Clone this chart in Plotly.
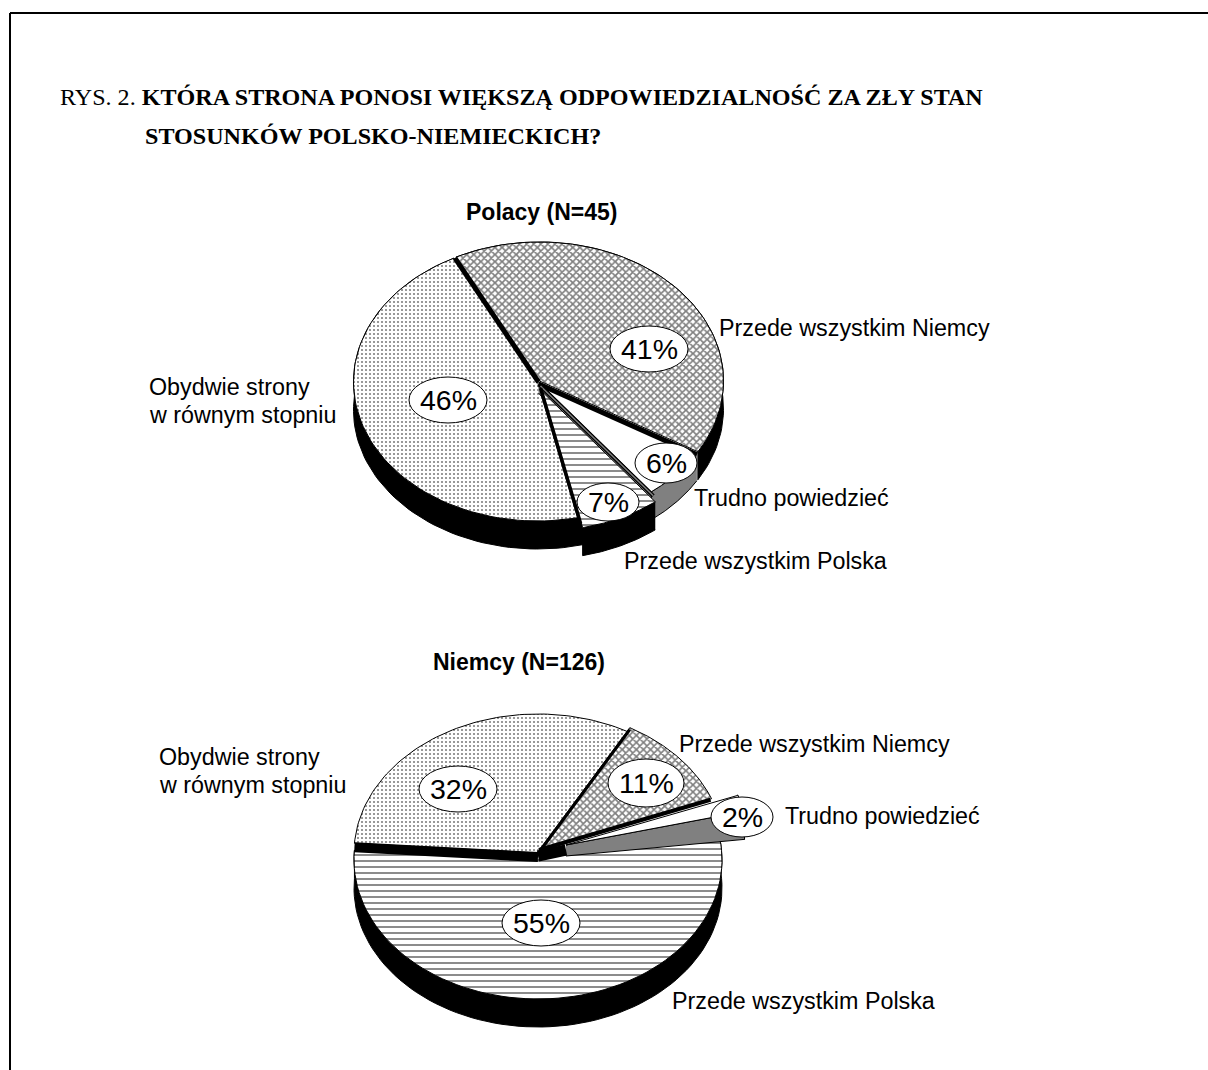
import numpy as np
import plotly.graph_objects as go

# ---- data -------------------------------------------------------------
categories = ["Przede wszystkim Niemcy", "Trudno powiedzieć",
              "Przede wszystkim Polska", "Obydwie strony<br>w równym stopniu"]
polacy_values = [41, 6, 7, 46]
niemcy_values = [11, 2, 55, 32]
polacy_title = "Polacy (N=45)"
niemcy_title = "Niemcy (N=126)"
caption_prefix = "RYS. 2. "
caption_line1 = "KTÓRA STRONA PONOSI WIĘKSZĄ ODPOWIEDZIALNOŚĆ ZA ZŁY STAN"
caption_line2 = "STOSUNKÓW POLSKO-NIEMIECKICH?"

# ---- layout / styling --------------------------------------------------
W, H = 1208, 1070
RX, RY, DEPTH = 184, 139, 28
POL_CENTER = (538.5, 382)
NIE_CENTER = (538, 858)
POL_START = -27
NIE_START = 29.2
POL_OFFSETS = [(1, -1), (0, 0), (4, 10), (-1, 0)]
NIE_OFFSETS = [(2, -9), (28, -13), (0, 2), (0, -5)]
POL_BUBBLES = [(649, 349, 39, 23), (666, 463, 31, 20), (608, 502, 31, 19), (448, 400, 39, 23)]
NIE_BUBBLES = [(646, 783, 38, 24), (742, 817, 31, 20), (541, 923, 39, 23), (458, 789, 39, 23)]
POL_LABELS = [(719, 328), (694, 498), (624, 561), (149, 387)]
NIE_LABELS = [(679, 744), (785, 816), (672, 1001), (159, 757)]
LINE_GAP = 27.5
SANS = "Liberation Sans"
SERIF = "Liberation Serif"
STYLES = [
    dict(fillcolor="white", fillpattern=dict(shape="x", size=5, solidity=0.55, fgcolor="black", bgcolor="white")),
    dict(fillcolor="white"),
    dict(fillcolor="white", fillpattern=dict(shape="-", size=6, solidity=0.3, fgcolor="black", bgcolor="white")),
    dict(fillcolor="white", fillpattern=dict(shape=".", size=4, solidity=0.22, fgcolor="black", bgcolor="white")),
]
SIDE_COLORS = ["black", "#808080", "black", "black"]
WALL_START_PAD = [0, 0, 0, 2]


def wedge(center, offset, t0, t1):
    t = np.radians(np.linspace(t0, t1, 80))
    cx, cy = center[0] + offset[0], center[1] + offset[1]
    return cx + RX * np.sin(t), cy - RY * np.cos(t), cx, cy


def shows_front(t0, t1):
    """True when the arc passes through the lower (front) half of the ellipse."""
    t = np.mod(np.linspace(t0, t1, 80), 360)
    return bool(np.any((t > 90) & (t < 270)))


def draw_pie(fig, values, center, start, offsets, draw_order):
    fracs = np.array(values, dtype=float) / sum(values)
    edges = start + np.concatenate([[0], np.cumsum(fracs) * 360])
    for i in draw_order:
        is_black = SIDE_COLORS[i] == "black"
        if not is_black or shows_front(edges[i], edges[i + 1]):
            x, y, _, _ = wedge(center, offsets[i], edges[i] - WALL_START_PAD[i], edges[i + 1])
            fig.add_trace(go.Scatter(
                x=np.r_[x, x[::-1]], y=np.r_[y, y[::-1] + DEPTH], mode="lines",
                fill="toself", fillcolor=SIDE_COLORS[i],
                line=dict(color="black", width=1), hoverinfo="skip", showlegend=False))
        x, y, cx, cy = wedge(center, offsets[i], edges[i], edges[i + 1])
        if not is_black:
            # inner wall visible under the exploded wedge
            fig.add_trace(go.Scatter(
                x=[cx, x[-1], x[-1], cx], y=[cy, y[-1], y[-1] + DEPTH, cy + 11],
                mode="lines", fill="toself", fillcolor=SIDE_COLORS[i],
                line=dict(color="black", width=1), hoverinfo="skip", showlegend=False))
        fig.add_trace(go.Scatter(
            x=np.r_[cx, x, cx], y=np.r_[cy, y, cy], mode="lines", fill="toself",
            line=dict(color="black", width=1), showlegend=False,
            name=categories[i].replace("<br>", " "),
            text=f"{values[i]}%", hoverinfo="name+text", **STYLES[i]))
    return edges


def radial(fig, center, offset, angle, color="black", width=4):
    x, y, cx, cy = wedge(center, offset, angle, angle)
    fig.add_trace(go.Scatter(x=[cx, x[0]], y=[cy, y[0]], mode="lines",
                             line=dict(color=color, width=width),
                             hoverinfo="skip", showlegend=False))


fig = go.Figure()

# Polacy
e = draw_pie(fig, polacy_values, POL_CENTER, POL_START, POL_OFFSETS, [0, 3, 1, 2])
radial(fig, POL_CENTER, (0, 2), e[1], width=5)
radial(fig, POL_CENTER, (0, 0), e[0], width=5)
radial(fig, POL_CENTER, (2, 4), e[2], width=4)
radial(fig, POL_CENTER, (2, 4), e[2], color="#808080", width=1.5)
radial(fig, POL_CENTER, (2, 6), e[3], width=3.5)

# Niemcy
e = draw_pie(fig, niemcy_values, NIE_CENTER, NIE_START, NIE_OFFSETS, [2, 1, 3, 0])
radial(fig, NIE_CENTER, (0, -1), e[3], width=10)
radial(fig, NIE_CENTER, (2, -7), e[0], width=3)
radial(fig, NIE_CENTER, (1, -8), e[1], width=4)
fig.add_trace(go.Scatter(
    x=[NIE_CENTER[0], NIE_CENTER[0] + NIE_OFFSETS[1][0]],
    y=[NIE_CENTER[1] - 2, NIE_CENTER[1] + NIE_OFFSETS[1][1] + 5],
    mode="lines", line=dict(color="black", width=11), hoverinfo="skip", showlegend=False))

shapes = [
    dict(type="line", x0=10, x1=W, y0=13, y1=13, line=dict(color="black", width=2)),
    dict(type="line", x0=10, x1=10, y0=13, y1=H, line=dict(color="black", width=2)),
]
annotations = []


def text(x, y, s, size=23.3, family=SANS, anchor="left"):
    annotations.append(dict(x=x, y=y, text=s, showarrow=False, xanchor=anchor, yanchor="middle",
                            align="left", borderpad=0, borderwidth=0,
                            font=dict(family=family, size=size, color="black")))


for vals, bubbles, labels in [(polacy_values, POL_BUBBLES, POL_LABELS),
                              (niemcy_values, NIE_BUBBLES, NIE_LABELS)]:
    for v, (bx, by, brx, bry), (lx, ly), cat in zip(vals, bubbles, labels, categories):
        shapes.append(dict(type="circle", x0=bx - brx, x1=bx + brx, y0=by - bry, y1=by + bry,
                           fillcolor="white", line=dict(color="black", width=1), layer="above"))
        text(bx, by, f"{v}%", size=28.5, anchor="center")
        for k, part in enumerate(cat.split("<br>")):
            text(lx, ly + k * LINE_GAP, part)

text(542, 212, f"<b>{polacy_title}</b>", size=23, anchor="center")
text(519, 662, f"<b>{niemcy_title}</b>", size=23, anchor="center")
text(60, 97, f"{caption_prefix}<b>{caption_line1}</b>", size=24.1, family=SERIF)
text(145, 136, f"<b>{caption_line2}</b>", size=24.1, family=SERIF)

fig.update_layout(
    width=W, height=H, margin=dict(l=0, r=0, t=0, b=0),
    paper_bgcolor="white", plot_bgcolor="white", showlegend=False,
    xaxis=dict(range=[0, W], visible=False, fixedrange=True),
    yaxis=dict(range=[H, 0], visible=False, fixedrange=True),
    shapes=shapes, annotations=annotations,
)
fig.write_html("out.html", config=dict(displayModeBar=False),
               post_script="document.body.style.margin='0';document.body.style.overflow='hidden';")
